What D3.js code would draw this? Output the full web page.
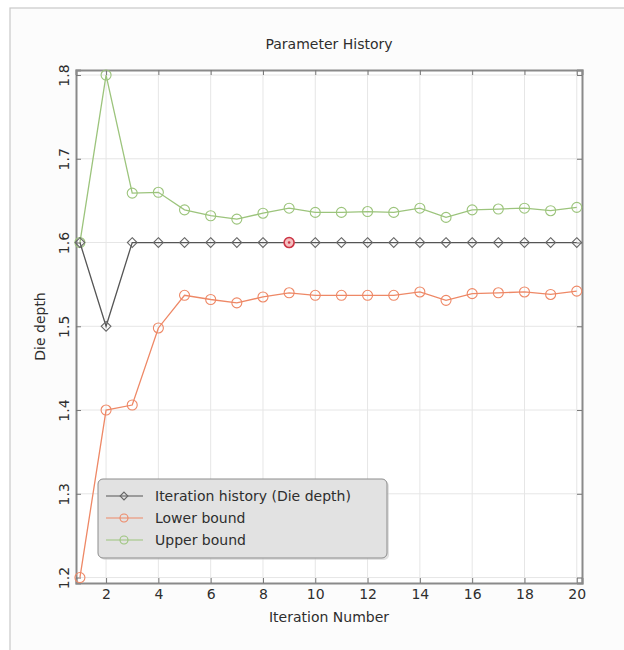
<!DOCTYPE html>
<html>
<head>
<meta charset="utf-8">
<script src="https://cdn.jsdelivr.net/npm/d3@7"></script>
<style>
  body { margin: 0; background: #fff; }
  svg { display: block; font-family: "DejaVu Sans", Verdana, sans-serif; }
</style>
</head>
<body>
<div id="chart"></div>
<script>
// values
var iterations = d3.range(1, 21);
var dieDepth = [1.6, 1.5, 1.6, 1.6, 1.6, 1.6, 1.6, 1.6, 1.6, 1.6,
                1.6, 1.6, 1.6, 1.6, 1.6, 1.6, 1.6, 1.6, 1.6, 1.6];
var lowerBound = [1.2, 1.4, 1.406, 1.498, 1.537, 1.532, 1.528, 1.535, 1.540, 1.537,
                  1.537, 1.537, 1.537, 1.541, 1.531, 1.539, 1.540, 1.541, 1.538, 1.542];
var upperBound = [1.6, 1.8, 1.659, 1.660, 1.639, 1.632, 1.628, 1.635, 1.641, 1.636,
                  1.636, 1.637, 1.636, 1.641, 1.630, 1.639, 1.640, 1.641, 1.638, 1.642];
var bestIter = 9;
var xTicks = [2, 4, 6, 8, 10, 12, 14, 16, 18, 20];
var yTicks = [1.2, 1.3, 1.4, 1.5, 1.6, 1.7, 1.8];
var legendNames = ["Iteration history (Die depth)", "Lower bound", "Upper bound"];

var W = 624, H = 650;
var m = {left: 76, top: 70, right: 42, bottom: 67};
var pw = W - m.left - m.right, ph = H - m.top - m.bottom;
var txt = "#2e2e2e";

var svg = d3.select("#chart").append("svg").attr("width", W).attr("height", H);

// outer frame (only top and left edges show)
svg.append("rect").attr("x", 10).attr("y", 8).attr("width", 700).attr("height", 700)
  .attr("fill", "#fcfcfc").attr("stroke", "#c8c8c8").attr("stroke-width", 1.2);

var x = d3.scaleLinear().domain([0.85, 20.2]).range([0, pw]);
var y = d3.scaleLinear().domain([1.1935, 1.806]).range([ph, 0]);

var g = svg.append("g").attr("transform", "translate(" + m.left + "," + m.top + ")");

g.append("rect").attr("width", pw).attr("height", ph).attr("fill", "#fff");

// grid
g.selectAll(".vg").data(xTicks).enter().append("line")
  .attr("x1", d => x(d)).attr("x2", d => x(d)).attr("y1", 0).attr("y2", ph)
  .attr("stroke", "#e6e6e6").attr("stroke-width", 1);
g.selectAll(".hg").data(yTicks).enter().append("line")
  .attr("y1", d => y(d)).attr("y2", d => y(d)).attr("x1", 0).attr("x2", pw)
  .attr("stroke", "#e6e6e6").attr("stroke-width", 1);

// axes
var xAxis = g.append("g").attr("transform", "translate(0," + ph + ")")
  .call(d3.axisBottom(x).tickValues(xTicks).tickSize(-5).tickPadding(6));
var xTop = g.append("g").call(d3.axisTop(x).tickValues(xTicks).tickSize(-5).tickFormat(""));
var yAxis = g.append("g")
  .call(d3.axisLeft(y).tickValues(yTicks).tickSize(-5).tickFormat(d3.format(".1f")));
var yRight = g.append("g").attr("transform", "translate(" + pw + ",0)")
  .call(d3.axisRight(y).tickValues(yTicks).tickSize(-5).tickFormat(""));

[xAxis, xTop, yAxis, yRight].forEach(function (a) {
  a.select(".domain").attr("stroke", "#8a8a8a").attr("stroke-width", 2);
  a.selectAll(".tick line").attr("stroke", "#777");
  a.selectAll("text").attr("fill", txt).attr("font-size", 14)
    .attr("font-family", "DejaVu Sans, Verdana, sans-serif");
});
yAxis.selectAll(".tick text")
  .attr("transform", "rotate(-90,-12,0)")
  .attr("x", -12).attr("dy", "0.35em").attr("text-anchor", "middle");

// titles
svg.append("text").attr("x", m.left + pw / 2).attr("y", 49).attr("text-anchor", "middle")
  .attr("font-size", 14).attr("fill", txt).text("Parameter History");
svg.append("text").attr("x", m.left + pw / 2).attr("y", 622).attr("text-anchor", "middle")
  .attr("font-size", 14).attr("fill", txt).text("Iteration Number");
svg.append("text").attr("transform", "translate(45," + (m.top + ph / 2) + ") rotate(-90)")
  .attr("text-anchor", "middle").attr("font-size", 14).attr("fill", txt).text("Die depth");

var series = [
  {name: legendNames[0], vals: dieDepth, color: "#555555", marker: "diamond"},
  {name: legendNames[1], vals: lowerBound, color: "#ee8866", marker: "circle"},
  {name: legendNames[2], vals: upperBound, color: "#9cc47c", marker: "circle"}
];

var line = d3.line().x(d => x(d[0])).y(d => y(d[1]));

function drawMarker(sel, s, k) {
  if (s.marker === "circle") {
    sel.append("circle").attr("r", 5 * k).attr("fill", "none")
      .attr("stroke", s.color).attr("stroke-width", 1.1);
  } else {
    sel.append("path").attr("d", d3.symbol().type(d3.symbolDiamond2).size(60 * k * k))
      .attr("fill", "none").attr("stroke", "#666").attr("stroke-width", 1.1);
  }
}

// draw upper, lower, then history
[series[2], series[1], series[0]].forEach(function (s) {
  var pts = iterations.map((it, i) => [it, s.vals[i]]);
  g.append("path").datum(pts).attr("d", line).attr("fill", "none")
    .attr("stroke", s.color).attr("stroke-width", 1.3);
  g.selectAll(null).data(pts).enter().append("g")
    .attr("transform", d => "translate(" + x(d[0]) + "," + y(d[1]) + ")")
    .each(function () { drawMarker(d3.select(this), s, 1); });
});

// best iteration highlight
var bi = iterations.indexOf(bestIter);
g.append("circle").attr("cx", x(bestIter)).attr("cy", y(dieDepth[bi])).attr("r", 5)
  .attr("fill", "#f3c0c0").attr("stroke", "#cc3344").attr("stroke-width", 1.6);
g.append("circle").attr("cx", x(bestIter)).attr("cy", y(dieDepth[bi])).attr("r", 1.3)
  .attr("fill", "#cc3344");

// legend
var lg = svg.append("g").attr("transform", "translate(98,479)");
lg.append("rect").attr("x", 2).attr("y", 2).attr("width", 289).attr("height", 79).attr("rx", 5)
  .attr("fill", "#cfcfcf").attr("opacity", 0.6);
lg.append("rect").attr("width", 289).attr("height", 79).attr("rx", 5)
  .attr("fill", "#e2e2e2").attr("stroke", "#8c8c8c").attr("stroke-width", 1);
series.forEach(function (s, i) {
  var row = lg.append("g").attr("transform", "translate(0," + (17 + i * 22) + ")");
  row.append("line").attr("x1", 8).attr("x2", 45).attr("stroke", s.color).attr("stroke-width", 1.2);
  var mk = row.append("g").attr("transform", "translate(26,0)");
  drawMarker(mk, s, 0.8);
  row.append("text").attr("x", 57).attr("dy", "0.35em").attr("font-size", 14)
    .attr("fill", txt).text(s.name);
});
</script>
</body>
</html>
